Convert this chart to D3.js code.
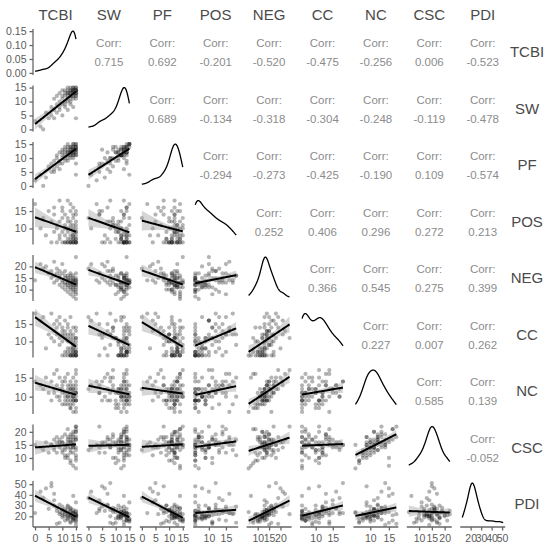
<!DOCTYPE html>
<html>
<head>
<meta charset="utf-8">
<style>
body { margin: 0; background: #fff; }
text { font-family: "Liberation Sans", Arial, sans-serif; }
.tick-label { font-size: 10.5px; fill: #5a5a5a; }
.strip { font-size: 15px; fill: #4a4a4a; }
.corr { font-size: 11.5px; fill: #8c8c8c; }
</style>
<script src="https://d3js.org/d3.v7.min.js"></script>
</head>
<body>
<script>

var vars = ["TCBI", "SW", "PF", "POS", "NEG", "CC", "NC", "CSC", "PDI"];

// one entry per respondent, same index in every array
var TCBI = [0,2,3,4,5,6,6,7,7,7,8,8,8,9,9,9,9,10,10,10,10,10,11,11,11,11,11,11,12,12,12,12,12,12,12,12,13,13,13,13,13,13,13,13,13,13,14,14,14,14,14,14,14,14,14,14,14,14,14,15,15,15,15,15,15,15,15,15,15,15,15,15,15];
var SW   = [3,1,0,6,4,8,5,7,11,4, 9,6,12,8,10,7,13,9,12,5, 11,14,10,8,13,12,9,14,11,13, 7,12,14,10,13,15,12,14,11,13, 9,14,12,15,13,10,14,13,12,15, 11,14,13,8,14,12,13,14,15,13, 14,12,15,14,15,4,14,13,12,13, 14,11,14];
var PF   = [2,4,0,3,7,5,8,6,9,5, 7,10,11,8,9,12,6,10,11,13, 12,8,14,10,12,11,13,9,10,12, 9,13,11,12,14,15,11,13,12,10, 14,12,13,14,11,12,13,12,11,15, 13,14,12,10,13,11,14,12,15,13, 12,11,15,14,4,8,12,13,14,13, 15,11,14];
var POS  = [17,10,13,8,15,12,6,16,9,14, 11,6,10,18,7,12,8,13,6,15, 9,16,10,6,14,8,11,6,12,18, 7,10,6,9,6,13,15,7,10,6, 12,6,8,17,6,11,9,14,7,6, 11,8,13,10,6,7,6,16,8,6, 9,12,11,7,6,14,8,6,7,9, 10,6,15];
var NEG  = [14,21,19,20,17,18,15,22,16,13, 19,14,17,16,12,18,15,13,17,21, 11,14,16,12,15,13,18,10,14,16, 13,11,15,12,9,14,13,17,12,10, 15,14,11,13,16,8,12,14,10,13, 15,11,9,14,12,13,7,16,13,12, 14,10,11,13,14,17,12,15,6,13, 24,9,8];
var CC   = [18,16,17,8,12,18,11,13,10,15, 14,12,16,9,11,15,17,14,10,12, 6,13,16,12,13,6,11,7,10,12, 6,7,15,11,14,8,17,7,6,10, 13,6,8,12,6,11,8,11,6,7, 9,6,10,12,7,8,6,14,9,6, 11,7,14,10,13,6,7,9,6,8, 11,6,7];
var NC   = [14,13,12,15,11,14,9,16,12,11, 17,10,13,15,9,12,10,12,11,14, 8,13,11,9,14,10,15,8,11,10, 9,10,12,8,16,13,10,14,11,7, 13,9,12,8,12,7,10,13,9,11, 12,10,8,11,9,12,15,6,10,11, 9,11,10,12,9,13,11,14,6,9, 17,7,16];
var CSC  = [15,14,13,16,12,15,15,17,13,14, 18,12,16,17,16,15,14,16,13,16, 12,18,15,14,19,13,10,11,16,11, 18,14,17,10,21,15,16,17,14,9, 19,12,18,13,16,8,15,20,18,15, 17,16,12,14,15,19,7,15,14,20, 13,17,17,18,11,22,20,14,6,10, 22,9,21];
var PDI  = [23,43,37,46,27,51,48,41,30,35, 13,25,28,14,24,31,22,26,21,29, 19,23,27,20,25,22,24,16,26,29, 30,20,23,18,21,17,24,27,20,15, 28,21,19,22,25,14,20,23,18,16, 21,17,22,26,19,24,39,23,18,21, 20,22,15,19,33,25,20,12,24,21, 22,18,16];

var series = [TCBI, SW, PF, POS, NEG, CC, NC, CSC, PDI];

// correlation labels of the upper panels, row by row
var corrRows = [
    ["0.715", "0.692", "-0.201", "-0.520", "-0.475", "-0.256", "0.006", "-0.523"],
    ["0.689", "-0.134", "-0.318", "-0.304", "-0.248", "-0.119", "-0.478"],
    ["-0.294", "-0.273", "-0.425", "-0.190", "0.109", "-0.574"],
    ["0.252", "0.406", "0.296", "0.272", "0.213"],
    ["0.366", "0.545", "0.275", "0.399"],
    ["0.227", "0.007", "0.262"],
    ["0.585", "0.139"],
    ["-0.052"]
];

// axis ticks per variable
var varTicks = [
    [0, 5, 10, 15],
    [0, 5, 10, 15],
    [0, 5, 10, 15],
    [10, 15],
    [10, 15, 20],
    [10, 15],
    [10, 15],
    [10, 15, 20],
    [20, 30, 40, 50]
];
var densTicks = [0, 0.05, 0.10, 0.15];

var width = 549, height = 550;
var left0 = 33, top0 = 29;
var pw = 45, ph = 46;
var colStep = 53.4, rowStep = 56.5;
var n = vars.length;

var svg = d3.select("body").append("svg")
    .attr("width", width)
    .attr("height", height);

// domain per variable, padded like ggplot
var scales = series.map(function(s) {
    var ext = d3.extent(s);
    var pad = (ext[1] - ext[0]) * 0.05;
    return [ext[0] - pad, ext[1] + pad];
});

// gaussian kernel density, bandwidth nrd0, over the data range
var kde = function(values) {
    var sd = d3.deviation(values);
    var sorted = values.slice().sort(d3.ascending);
    var iqr = d3.quantile(sorted, 0.75) - d3.quantile(sorted, 0.25);
    var bw = 0.9 * Math.min(sd, iqr / 1.34) * Math.pow(values.length, -0.2);
    var ext = d3.extent(values);
    var out = [];
    for (var k = 0; k < 200; k++) {
        var x = ext[0] + (ext[1] - ext[0]) * k / 199;
        var sum = 0;
        values.forEach(function(v) {
            var u = (x - v) / bw;
            sum += Math.exp(-0.5 * u * u);
        });
        out.push({x: x, y: sum / (values.length * bw * Math.sqrt(2 * Math.PI))});
    }
    return out;
};

// least squares line with 95% band
var linFit = function(xs, ys) {
    var m = xs.length;
    var mx = d3.mean(xs), my = d3.mean(ys);
    var sxx = 0, sxy = 0;
    for (var k = 0; k < m; k++) {
        sxx += (xs[k] - mx) * (xs[k] - mx);
        sxy += (xs[k] - mx) * (ys[k] - my);
    }
    var b = sxy / sxx, a = my - b * mx;
    var sse = 0;
    for (k = 0; k < m; k++) {
        var r = ys[k] - (a + b * xs[k]);
        sse += r * r;
    }
    var s = Math.sqrt(sse / (m - 2));
    var ext = d3.extent(xs);
    var pts = [];
    for (k = 0; k < 60; k++) {
        var x = ext[0] + (ext[1] - ext[0]) * k / 59;
        var yhat = a + b * x;
        var se = s * Math.sqrt(1 / m + (x - mx) * (x - mx) / sxx);
        pts.push({x: x, y: yhat, lo: yhat - 1.99 * se, hi: yhat + 1.99 * se});
    }
    return pts;
};

var densities = series.map(kde);

for (var i = 0; i < n; i++) {
    for (var j = 0; j < n; j++) {
        var g = svg.append("g")
            .attr("transform", "translate(" + (left0 + j * colStep) + "," + (top0 + i * rowStep) + ")");

        var x = d3.scaleLinear().domain(scales[j]).range([0, pw]);
        var y;

        if (i === j) {
            var dens = densities[j];
            var dmax = d3.max(dens, function(d) { return d.y; });
            y = d3.scaleLinear().domain([-0.05 * dmax, dmax * 1.05]).range([ph, 0]);
            g.append("path")
                .datum(dens)
                .attr("fill", "none")
                .attr("stroke", "#000")
                .attr("stroke-width", 1.3)
                .attr("d", d3.line().x(function(d) { return x(d.x); }).y(function(d) { return y(d.y); }));
        } else if (i > j) {
            y = d3.scaleLinear().domain(scales[i]).range([ph, 0]);
            var pts = series[j].map(function(v, k) { return [v, series[i][k]]; });
            g.selectAll("circle")
                .data(pts)
                .enter().append("circle")
                .attr("cx", function(d) { return x(d[0]); })
                .attr("cy", function(d) { return y(d[1]); })
                .attr("r", 2.1)
                .attr("fill", "#1a1a1a")
                .attr("fill-opacity", 0.33);

            var fit = linFit(series[j], series[i]);
            g.append("path")
                .datum(fit)
                .attr("fill", "#999")
                .attr("fill-opacity", 0.4)
                .attr("d", d3.area()
                    .x(function(d) { return x(d.x); })
                    .y0(function(d) { return y(d.lo); })
                    .y1(function(d) { return y(d.hi); }));
            g.append("path")
                .datum(fit)
                .attr("fill", "none")
                .attr("stroke", "#000")
                .attr("stroke-width", 2)
                .attr("d", d3.line().x(function(d) { return x(d.x); }).y(function(d) { return y(d.y); }));
        } else {
            var label = corrRows[i][j - i - 1];
            g.append("text")
                .attr("class", "corr")
                .attr("x", pw / 2)
                .attr("y", ph / 2 - 5)
                .attr("text-anchor", "middle")
                .text("Corr:");
            g.append("text")
                .attr("class", "corr")
                .attr("x", pw / 2)
                .attr("y", ph / 2 + 14)
                .attr("text-anchor", "middle")
                .text(label);
        }

        // left axis
        if (j === 0) {
            var ya, yt, yfmt;
            if (i === 0) {
                var d0 = densities[0];
                var m0 = d3.max(d0, function(d) { return d.y; });
                ya = d3.scaleLinear().domain([-0.05 * m0, m0 * 1.05]).range([ph, 0]);
                yt = densTicks;
                yfmt = d3.format(".2f");
            } else {
                ya = d3.scaleLinear().domain(scales[i]).range([ph, 0]);
                yt = varTicks[i];
                yfmt = d3.format("d");
            }
            var ay = g.append("g")
                .call(d3.axisLeft(ya).tickValues(yt).tickFormat(yfmt).tickSize(3.5).tickPadding(3));
            ay.select(".domain").remove();
            g.append("line")
                .attr("x1", 0).attr("x2", 0)
                .attr("y1", 0).attr("y2", ph)
                .attr("stroke", "#666").attr("stroke-width", 1.3);
            ay.selectAll(".tick line").attr("stroke", "#666").attr("stroke-width", 1.3);
            ay.selectAll(".tick text").attr("class", "tick-label").attr("font-size", null).attr("font-family", null);
        }

        // bottom axis
        if (i === n - 1) {
            var ax = g.append("g")
                .attr("transform", "translate(0," + ph + ")")
                .call(d3.axisBottom(x).tickValues(varTicks[j]).tickFormat(d3.format("d")).tickSize(3.5).tickPadding(4));
            ax.select(".domain").remove();
            g.append("line")
                .attr("x1", 0).attr("x2", pw)
                .attr("y1", ph).attr("y2", ph)
                .attr("stroke", "#666").attr("stroke-width", 1.3);
            ax.selectAll(".tick line").attr("stroke", "#666").attr("stroke-width", 1.3);
            ax.selectAll(".tick text").attr("class", "tick-label").attr("font-size", null).attr("font-family", null);
        }
    }
}

// strip labels
svg.selectAll(".top-strip")
    .data(vars)
    .enter().append("text")
    .attr("class", "strip")
    .attr("x", function(d, k) { return left0 + k * colStep + pw / 2; })
    .attr("y", 20)
    .attr("text-anchor", "middle")
    .text(function(d) { return d; });

svg.selectAll(".right-strip")
    .data(vars)
    .enter().append("text")
    .attr("class", "strip")
    .attr("x", 527)
    .attr("y", function(d, k) { return top0 + k * rowStep + ph / 2 + 5; })
    .attr("text-anchor", "middle")
    .text(function(d) { return d; });

</script>
</body>
</html>
